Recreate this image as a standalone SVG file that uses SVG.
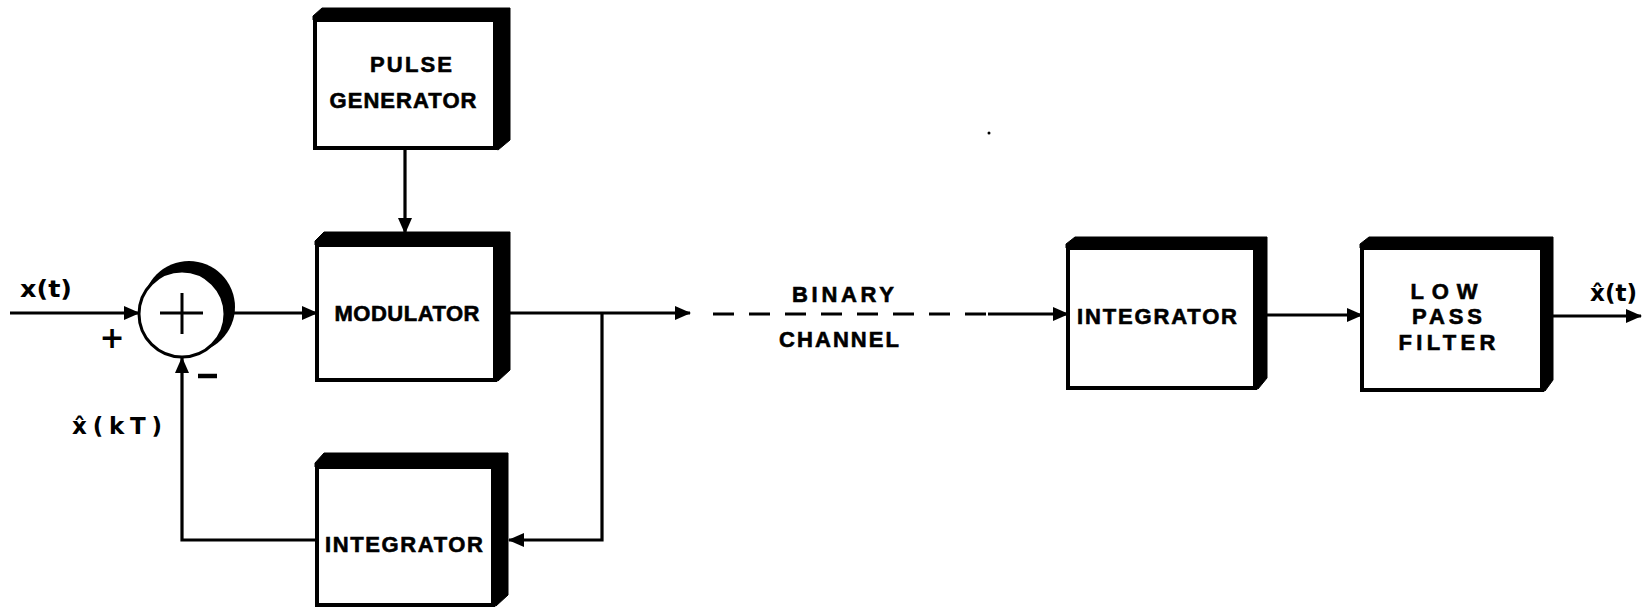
<svg xmlns="http://www.w3.org/2000/svg" width="1645" height="613" viewBox="0 0 1645 613">
<style>
.front{fill:#fff;stroke:#000;stroke-width:4}
.shadow{fill:#000;stroke:#000;stroke-width:1;stroke-linejoin:round}
.lbl{font-family:"Liberation Sans","DejaVu Sans",sans-serif;font-weight:bold;font-size:22px;fill:#000;stroke:#000;stroke-width:0.6;text-anchor:middle}
.math{font-family:"DejaVu Sans","Liberation Sans",sans-serif;font-weight:bold;font-size:23px;fill:#000}
.wire{fill:none;stroke:#000;stroke-width:3.2}
.arr{marker-end:url(#ah)}
</style>
<defs>
<marker id="ah" markerUnits="userSpaceOnUse" markerWidth="16" markerHeight="14" refX="15" refY="7" orient="auto">
<path d="M0,0 L16,7 L0,14 Z" fill="#000"/>
</marker>
</defs>
<rect width="1645" height="613" fill="#fff"/>

<g id="connectors">
<path class="wire arr" d="M10,313 H139"/>
<path class="wire arr" d="M234,313 H317"/>
<path class="wire arr" d="M405,149 V233"/>
<path class="wire arr" d="M510,313 H690"/>
<path class="wire arr" d="M602,313 V540 H509"/>
<path class="wire arr" d="M317,540 H182 V358"/>
<path class="wire" d="M713,314 H992" stroke-dasharray="21 15"/>
<path class="wire arr" d="M988,314 H1068"/>
<path class="wire arr" d="M1267,315 H1362"/>
<path class="wire arr" d="M1553,316 H1641"/>
</g>

<g id="pulse-generator">
<polygon class="shadow" points="313,20 313,16 322,8 510,8 510,140 498,150 495,148"/>
<rect class="front" x="315" y="20" width="180" height="128"/>
<text class="lbl" x="411" y="72" textLength="82" lengthAdjust="spacing">PULSE</text>
<text class="lbl" x="403" y="108" textLength="147" lengthAdjust="spacing">GENERATOR</text>
</g>

<g id="modulator">
<polygon class="shadow" points="315,245 315,241 324,232 510,232 510,370 498,381 495,380"/>
<rect class="front" x="317" y="245" width="178" height="135"/>
<text class="lbl" x="407" y="321" textLength="145" lengthAdjust="spacing">MODULATOR</text>
</g>

<g id="integrator-feedback">
<polygon class="shadow" points="315,467 315,463 324,453 508,453 508,595 496,606 493,605"/>
<rect class="front" x="317" y="467" width="176" height="138"/>
<text class="lbl" x="404" y="552" textLength="158" lengthAdjust="spacing">INTEGRATOR</text>
</g>

<g id="summing-junction">
<circle cx="189" cy="307" r="46" fill="#000"/>
<circle cx="182" cy="314" r="43" fill="#fff" stroke="#000" stroke-width="3"/>
<path d="M182,293 V334 M160,313 H203" stroke="#000" stroke-width="3" fill="none"/>
</g>

<g id="integrator-receiver">
<polygon class="shadow" points="1066,248 1066,244 1075,237 1267,237 1267,378 1258,389 1255,388"/>
<rect class="front" x="1068" y="248" width="187" height="140"/>
<text class="lbl" x="1157" y="324" textLength="160" lengthAdjust="spacing">INTEGRATOR</text>
</g>

<g id="low-pass-filter">
<polygon class="shadow" points="1360,248 1360,244 1369,237 1553,237 1553,380 1545,391 1542,390"/>
<rect class="front" x="1362" y="248" width="180" height="142"/>
<text class="lbl" x="1444" y="299" textLength="67" lengthAdjust="spacing">LOW</text>
<text class="lbl" x="1447" y="324" textLength="70" lengthAdjust="spacing">PASS</text>
<text class="lbl" x="1447" y="350" textLength="97" lengthAdjust="spacing">FILTER</text>
</g>

<g id="labels">
<text class="lbl" x="843" y="302" textLength="102" lengthAdjust="spacing">BINARY</text>
<text class="lbl" x="839" y="347" textLength="120" lengthAdjust="spacing">CHANNEL</text>
<text class="math" x="20" y="297" textLength="52" lengthAdjust="spacingAndGlyphs">x(t)</text>
<text class="math" x="72" y="434" textLength="90" lengthAdjust="spacing">x̂(kT)</text>
<text class="math" x="1590" y="301" textLength="47" lengthAdjust="spacingAndGlyphs">x̂(t)</text>
<text class="math" x="112" y="348" style="font-size:30px" text-anchor="middle">+</text>
<path d="M198,376 H217" stroke="#000" stroke-width="4.5"/>
<circle cx="989" cy="133" r="1.5" fill="#000"/>
</g>
</svg>
